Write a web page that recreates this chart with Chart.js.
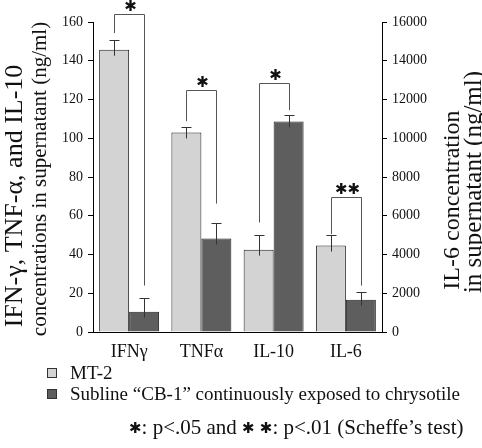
<!DOCTYPE html>
<html lang="en">
<head>
  <meta charset="UTF-8" />
  <title>Cytokine concentrations</title>
  <script src="https://cdn.jsdelivr.net/npm/chart.js"></script>
  <style>
    html, body {
      margin: 0;
      padding: 0;
      background: #fff;
    }

    #wrap {
      position: relative;
      width: 482px;
      height: 448px;
      font-family: 'Liberation Serif', serif;
      color: #111;
    }

    .legend-row {
      position: absolute;
      left: 47px;
      font-size: 19px;
      line-height: 20px;
      white-space: nowrap;
    }

    .legend-row .box {
      display: inline-block;
      width: 8px;
      height: 8px;
      border: 1px solid #333;
      margin-right: 13px;
      vertical-align: 1px;
    }

    #note {
      position: absolute;
      left: 129px;
      top: 415px;
      font-size: 21px;
      white-space: nowrap;
    }

    .star {
      font-family: 'DejaVu Sans', sans-serif;
      font-size: 15px;
      font-weight: bold;
      vertical-align: 1px;
    }
  </style>
</head>
<body>
  <div id="wrap">
    <canvas id="cytoChart" width="482" height="448"></canvas>

    <!-- legend -->
    <div class="legend-row" style="top: 363px;"><span class="box" style="background:#d3d3d3"></span>MT-2</div>
    <div class="legend-row" style="top: 384px;"><span class="box" style="background:#5e5e5e"></span>Subline “CB-1” continuously exposed to chrysotile</div>
    <div id="note"><span class="star">✱</span>: p&lt;.05 and <span class="star">✱ ✱</span>: p&lt;.01 (Scheffe’s test)</div>
  </div>

  <script>
    // categories, left axis (ng/ml) for the first three, right axis for IL-6
    const categories = ['IFNγ', 'TNFα', 'IL-10', 'IL-6'];

    const mt2Left = [145.7, 103.0, 42.5, null];
    const cb1Left = [10.5, 48.2, 108.7, null];
    const mt2LeftErr = [5.1, 2.6, 7.8, null];
    const cb1LeftErr = [7.1, 8.3, 3.1, null];

    const mt2Right = [null, null, null, 4460];
    const cb1Right = [null, null, null, 1670];
    const mt2RightErr = [null, null, null, 550];
    const cb1RightErr = [null, null, null, 420];

    const leftTicks = [0, 20, 40, 60, 80, 100, 120, 140, 160];
    const rightTicks = [0, 2000, 4000, 6000, 8000, 10000, 12000, 14000, 16000];

    // significance brackets: category, axis, left end, top, right end, label
    const bracketCat = [0, 1, 2, 3];
    const bracketAxis = ['y', 'y', 'y', 'y1'];
    const bracketLeft = [154.3, 108.8, 56.5, 5050];
    const bracketTop = [164, 125, 128.3, 6970];
    const bracketRight = [24, 66.3, 114.5, 2400];
    const bracketLabel = ['✱', '✱', '✱', '✱✱'];

    const lightGray = '#d3d3d3';
    const darkGray = '#5e5e5e';
    const serif = 'Liberation Serif';

    const errorBars = {
      id: 'errorBars',
      afterDatasetsDraw(chart) {
        const ctx = chart.ctx;
        ctx.save();
        ctx.strokeStyle = '#333';
        ctx.lineWidth = 1;
        chart.data.datasets.forEach((ds, i) => {
          const meta = chart.getDatasetMeta(i);
          const scale = chart.scales[ds.yAxisID];
          meta.data.forEach((bar, j) => {
            if (ds.data[j] == null) return;
            const top = Math.round(scale.getPixelForValue(ds.data[j] + ds.errors[j])) + 0.5;
            const x = Math.round(bar.x) + 0.5;
            ctx.beginPath();
            ctx.moveTo(x, bar.y + 6);
            ctx.lineTo(x, top);
            ctx.moveTo(x - 5, top);
            ctx.lineTo(x + 5, top);
            ctx.stroke();
          });
        });
        ctx.restore();
      }
    };

    const brackets = {
      id: 'brackets',
      afterDraw(chart) {
        const ctx = chart.ctx;
        ctx.save();
        ctx.strokeStyle = '#555';
        ctx.lineWidth = 1;
        bracketCat.forEach((c, k) => {
          const scale = chart.scales[bracketAxis[k]];
          const metaA = chart.getDatasetMeta(bracketAxis[k] === 'y' ? 0 : 2);
          const metaB = chart.getDatasetMeta(bracketAxis[k] === 'y' ? 1 : 3);
          const xa = Math.round(metaA.data[c].x) + 0.5;
          const xb = Math.round(metaB.data[c].x) + 0.5;
          const yl = scale.getPixelForValue(bracketLeft[k]);
          const yt = Math.round(scale.getPixelForValue(bracketTop[k])) + 0.5;
          const yr = scale.getPixelForValue(bracketRight[k]);
          ctx.beginPath();
          ctx.moveTo(xa, yl);
          ctx.lineTo(xa, yt);
          ctx.lineTo(xb, yt);
          ctx.lineTo(xb, yr);
          ctx.stroke();
          ctx.fillStyle = '#111';
          ctx.font = 'bold 15px "DejaVu Sans"';
          ctx.textAlign = 'center';
          ctx.textBaseline = 'middle';
          ctx.fillText(bracketLabel[k], (xa + xb) / 2 + 1, yt - 7);
        });
        ctx.restore();
      }
    };

    const axisTitles = {
      id: 'axisTitles',
      afterDraw(chart) {
        const ctx = chart.ctx;
        ctx.save();
        ctx.fillStyle = '#111';
        ctx.textAlign = 'center';
        ctx.textBaseline = 'middle';
        const line = (text, size, x, y) => {
          ctx.save();
          ctx.translate(x, y);
          ctx.rotate(-Math.PI / 2);
          ctx.font = size + 'px "' + serif + '"';
          ctx.fillText(text, 0, 0);
          ctx.restore();
        };
        line('IFN-γ, TNF-α, and IL-10', 26, 15, 196);
        line('concentrations in supernatant (ng/ml)', 21, 40, 179);
        line('IL-6 concentration', 24, 453, 200);
        line('in supernatant (ng/ml)', 25, 474, 182);
        ctx.restore();
      }
    };

    const tickStyle = {
      font: { family: serif, size: 14 },
      color: '#111',
      padding: 5,
      callback: v => String(v)
    };

    new Chart(document.getElementById('cytoChart'), {
      type: 'bar',
      data: {
        labels: categories,
        datasets: [
          { label: 'MT-2', data: mt2Left, errors: mt2LeftErr, yAxisID: 'y', backgroundColor: lightGray },
          { label: 'CB-1', data: cb1Left, errors: cb1LeftErr, yAxisID: 'y', backgroundColor: darkGray },
          { label: 'MT-2 IL-6', data: mt2Right, errors: mt2RightErr, yAxisID: 'y1', backgroundColor: lightGray },
          { label: 'CB-1 IL-6', data: cb1Right, errors: cb1RightErr, yAxisID: 'y1', backgroundColor: darkGray }
        ]
      },
      options: {
        responsive: false,
        animation: false,
        devicePixelRatio: 1,
        skipNull: true,
        categoryPercentage: 0.83,
        barPercentage: 1.0,
        borderColor: '#222',
        borderWidth: 1,
        layout: { padding: { top: 22, bottom: 76 } },
        plugins: {
          legend: { display: false },
          tooltip: { enabled: false }
        },
        scales: {
          x: {
            grid: { display: false, drawTicks: false },
            border: { color: '#000' },
            ticks: { font: { family: serif, size: 18 }, color: '#111', padding: 9 },
            afterFit: s => { s.height = 40; }
          },
          y: {
            position: 'left',
            min: 0,
            max: 160,
            afterBuildTicks: s => { s.ticks = leftTicks.map(v => ({ value: v })); },
            ticks: tickStyle,
            grid: { drawOnChartArea: false, tickLength: 5, color: '#000' },
            border: { color: '#000' },
            afterFit: s => { s.width = 93; }
          },
          y1: {
            position: 'right',
            min: 0,
            max: 16000,
            afterBuildTicks: s => { s.ticks = rightTicks.map(v => ({ value: v })); },
            ticks: tickStyle,
            grid: { drawOnChartArea: false, tickLength: 5, color: '#000' },
            border: { color: '#000' },
            afterFit: s => { s.width = 100; }
          }
        }
      },
      plugins: [errorBars, brackets, axisTitles]
    });
  </script>
</body>
</html>
